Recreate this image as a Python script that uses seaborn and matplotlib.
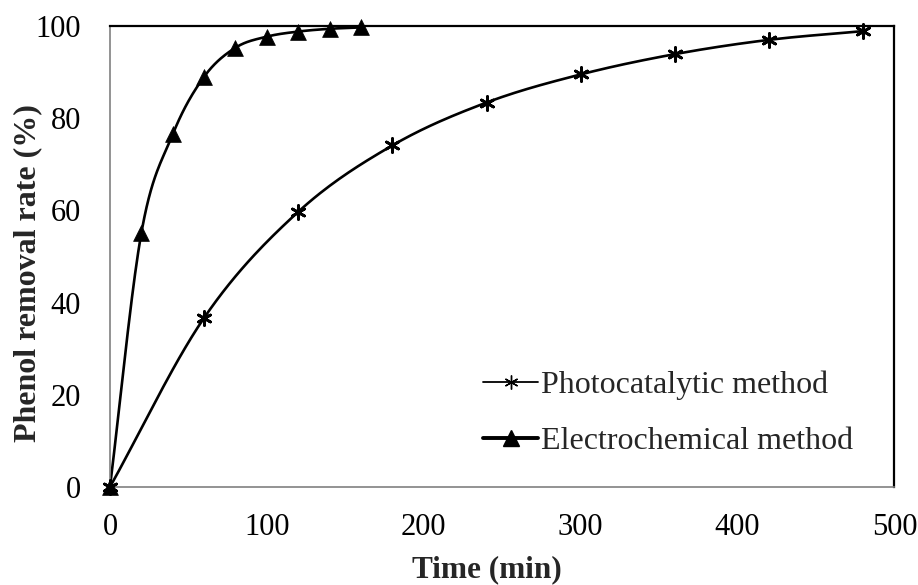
import numpy as np
import pandas as pd
import matplotlib
matplotlib.use("Agg")
import matplotlib.pyplot as plt
from matplotlib.lines import Line2D
import seaborn as sns

# Phenol removal over time for the two treatment methods
photo_time = [0, 60, 120, 180, 240, 300, 360, 420, 480]
photo_removal = [0, 36.7, 59.7, 74.1, 83.4, 89.5, 93.9, 97.0, 98.9]

electro_time = [0, 20, 40, 60, 80, 100, 120, 140, 160]
electro_removal = [0, 55.1, 76.5, 89.0, 95.3, 97.7, 98.8, 99.4, 99.7]

x_ticks = [0, 100, 200, 300, 400, 500]
y_ticks = [0, 20, 40, 60, 80, 100]


def smooth_curve(x, y, n=30):
    """Catmull-Rom curve through the given points (smoothed line style)."""
    x = np.asarray(x, float)
    y = np.asarray(y, float)
    px = np.concatenate([[2 * x[0] - x[1]], x, [2 * x[-1] - x[-2]]])
    py = np.concatenate([[2 * y[0] - y[1]], y, [2 * y[-1] - y[-2]]])
    xs, ys = [], []
    t = np.linspace(0, 1, n, endpoint=False)
    for i in range(1, len(px) - 2):
        p0, p1, p2, p3 = (np.array([px[j], py[j]]) for j in range(i - 1, i + 3))
        m1 = (p2 - p0) / 2.0
        m2 = (p3 - p1) / 2.0
        h00 = 2 * t**3 - 3 * t**2 + 1
        h10 = t**3 - 2 * t**2 + t
        h01 = -2 * t**3 + 3 * t**2
        h11 = t**3 - t**2
        pts = (np.outer(h00, p1) + np.outer(h10, m1)
               + np.outer(h01, p2) + np.outer(h11, m2))
        xs.extend(pts[:, 0])
        ys.extend(pts[:, 1])
    xs.append(x[-1])
    ys.append(y[-1])
    return np.array(xs), np.array(ys)


sns.set_theme(style="white")
plt.rcParams["font.family"] = ["Liberation Serif", "DejaVu Serif"]

fig = plt.figure(figsize=(9.18, 5.85), dpi=100)
ax = fig.add_axes([0.1198, 0.1675, 0.8545, 0.788])

sx, sy = smooth_curve(photo_time, photo_removal)
ex, ey = smooth_curve(electro_time, electro_removal)
curves = pd.concat([
    pd.DataFrame({"t": sx, "r": sy, "method": "Photocatalytic method"}),
    pd.DataFrame({"t": ex, "r": ey, "method": "Electrochemical method"}),
])
sns.lineplot(data=curves, x="t", y="r", units="method", estimator=None,
             sort=False, color="black", linewidth=1.9, ax=ax, legend=False)

photo_df = pd.DataFrame({"t": photo_time, "r": photo_removal})
electro_df = pd.DataFrame({"t": electro_time, "r": electro_removal})
sns.scatterplot(data=photo_df, x="t", y="r", marker=(6, 2, 0), s=100,
                color="black", edgecolor="black", linewidth=2.0, ax=ax,
                zorder=4, legend=False, clip_on=False)
sns.scatterplot(data=electro_df, x="t", y="r", marker="^", s=130,
                color="black", edgecolor="black", linewidth=0.5, ax=ax,
                zorder=4, legend=False, clip_on=False)

ax.set_xlim(0, 500)
ax.set_ylim(0, 100)
ax.set_xticks(x_ticks)
ax.set_yticks(y_ticks)
ax.set_xticklabels([str(v) for v in x_ticks])
ax.set_yticklabels([str(v) for v in y_ticks])

grey = "#808080"
for side in ("left", "bottom"):
    ax.spines[side].set_color(grey)
    ax.spines[side].set_linewidth(1.2)
for side in ("top", "right"):
    ax.spines[side].set_color("black")
    ax.spines[side].set_linewidth(1.6)
ax.tick_params(axis="both", direction="in", length=10, width=1.2,
               color=grey, labelsize=22, labelcolor="black")
ax.tick_params(axis="x", pad=19)
ax.tick_params(axis="y", pad=21)
ax.tick_params(top=False, right=False)

ax.set_xlabel("Time (min)", fontsize=22.5, fontweight="bold")
ax.set_ylabel("Phenol removal rate (%)", fontsize=23, fontweight="bold")
ax.xaxis.set_label_coords(0.481, -0.1475)
ax.yaxis.set_label_coords(-0.087, 0.464)

handles = [
    Line2D([], [], color="black", linewidth=1.3, marker=(6, 2, 0),
           markersize=10, markeredgewidth=1.0),
    Line2D([], [], color="black", linewidth=2.8, marker="^",
           markersize=11),
]
ax.legend(handles, ["Photocatalytic method", "Electrochemical method"],
          loc="center left", bbox_to_anchor=(0.476, 0.16), frameon=False,
          fontsize=23, handlelength=1.7, handletextpad=0.1,
          labelspacing=0.85, borderpad=0, borderaxespad=0)

fig.savefig("out.png", dpi=100)
